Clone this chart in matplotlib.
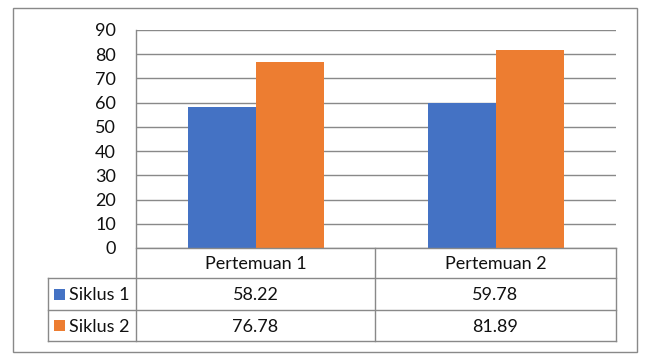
import matplotlib
matplotlib.use("Agg")
import matplotlib.pyplot as plt
from matplotlib.patches import Rectangle

categories = ["Pertemuan 1", "Pertemuan 2"]
series_names = ["Siklus 1", "Siklus 2"]
siklus1 = [58.22, 59.78]
siklus2 = [76.78, 81.89]
value_labels = [["58.22", "59.78"], ["76.78", "81.89"]]
yticks = [0, 10, 20, 30, 40, 50, 60, 70, 80, 90]
colors = ["#4472C4", "#ED7D31"]

W, H = 657, 357
FONT = "Lato"
FS = 13
GRID = "#898989"

fig = plt.figure(figsize=(W / 100, H / 100), dpi=100)

def fx(px):
    return px / W

def fy(py):
    return 1 - py / H

# plot area
left, right, top, zero = 136, 616, 30, 248
ax = fig.add_axes([fx(left), fy(zero), fx(right - left), (zero - top) / H])
ax.set_xlim(-0.5, 1.5)
ax.set_ylim(0, 90)
bw = 0.285
x = list(range(len(categories)))
ax.bar([i - bw / 2 for i in x], siklus1, width=bw, color=colors[0], zorder=3)
ax.bar([i + bw / 2 for i in x], siklus2, width=bw, color=colors[1], zorder=3)
ax.set_yticks(yticks)
ax.set_yticklabels([str(t) for t in yticks], fontfamily=FONT, fontsize=FS, color="#111111")
ax.tick_params(axis="y", length=0, pad=14.5)
ax.set_xticks([])
ax.grid(axis="y", color=GRID, linewidth=1, zorder=0)
for s in ["top", "right", "bottom", "left"]:
    ax.spines[s].set_visible(False)
ax.set_facecolor("none")

# overlay for table & border (pixel coords)
ov = fig.add_axes([0, 0, 1, 1])
ov.set_xlim(0, W)
ov.set_ylim(H, 0)
ov.axis("off")
ov.set_facecolor("none")

lw = 1
# outer border
ov.add_patch(Rectangle((13, 8), 624, 344, fill=False, edgecolor=GRID, linewidth=lw))

# table lines
tl = 48
colx = [left, 375, right]
rows = [248, 278, 310, 341]
ov.plot([left, left], [top, rows[-1]], color=GRID, lw=lw)
ov.plot([left, right], [rows[0], rows[0]], color=GRID, lw=lw)
for r in rows[1:]:
    ov.plot([tl, right], [r, r], color=GRID, lw=lw)
ov.plot([tl, tl], [rows[1], rows[-1]], color=GRID, lw=lw)
for cx in colx[1:]:
    ov.plot([cx, cx], [rows[0], rows[-1]], color=GRID, lw=lw)

centers = [(colx[i] + colx[i + 1]) / 2 for i in range(len(categories))]
for i, c in enumerate(categories):
    ov.text(centers[i], (rows[0] + rows[1]) / 2 + 1, c, ha="center", va="center",
            fontfamily=FONT, fontsize=FS, color="#111111")
for r, name in enumerate(series_names):
    yc = (rows[r + 1] + rows[r + 2]) / 2
    ov.add_patch(Rectangle((54, yc - 5.5), 11, 11, color=colors[r], linewidth=0))
    ov.text(69, yc + 1, name, ha="left", va="center", fontfamily=FONT, fontsize=FS, color="#111111")
    for i in range(len(categories)):
        ov.text(centers[i], yc + 1, value_labels[r][i], ha="center", va="center",
                fontfamily=FONT, fontsize=FS, color="#111111")

fig.savefig("out.png", dpi=100, facecolor="white")
